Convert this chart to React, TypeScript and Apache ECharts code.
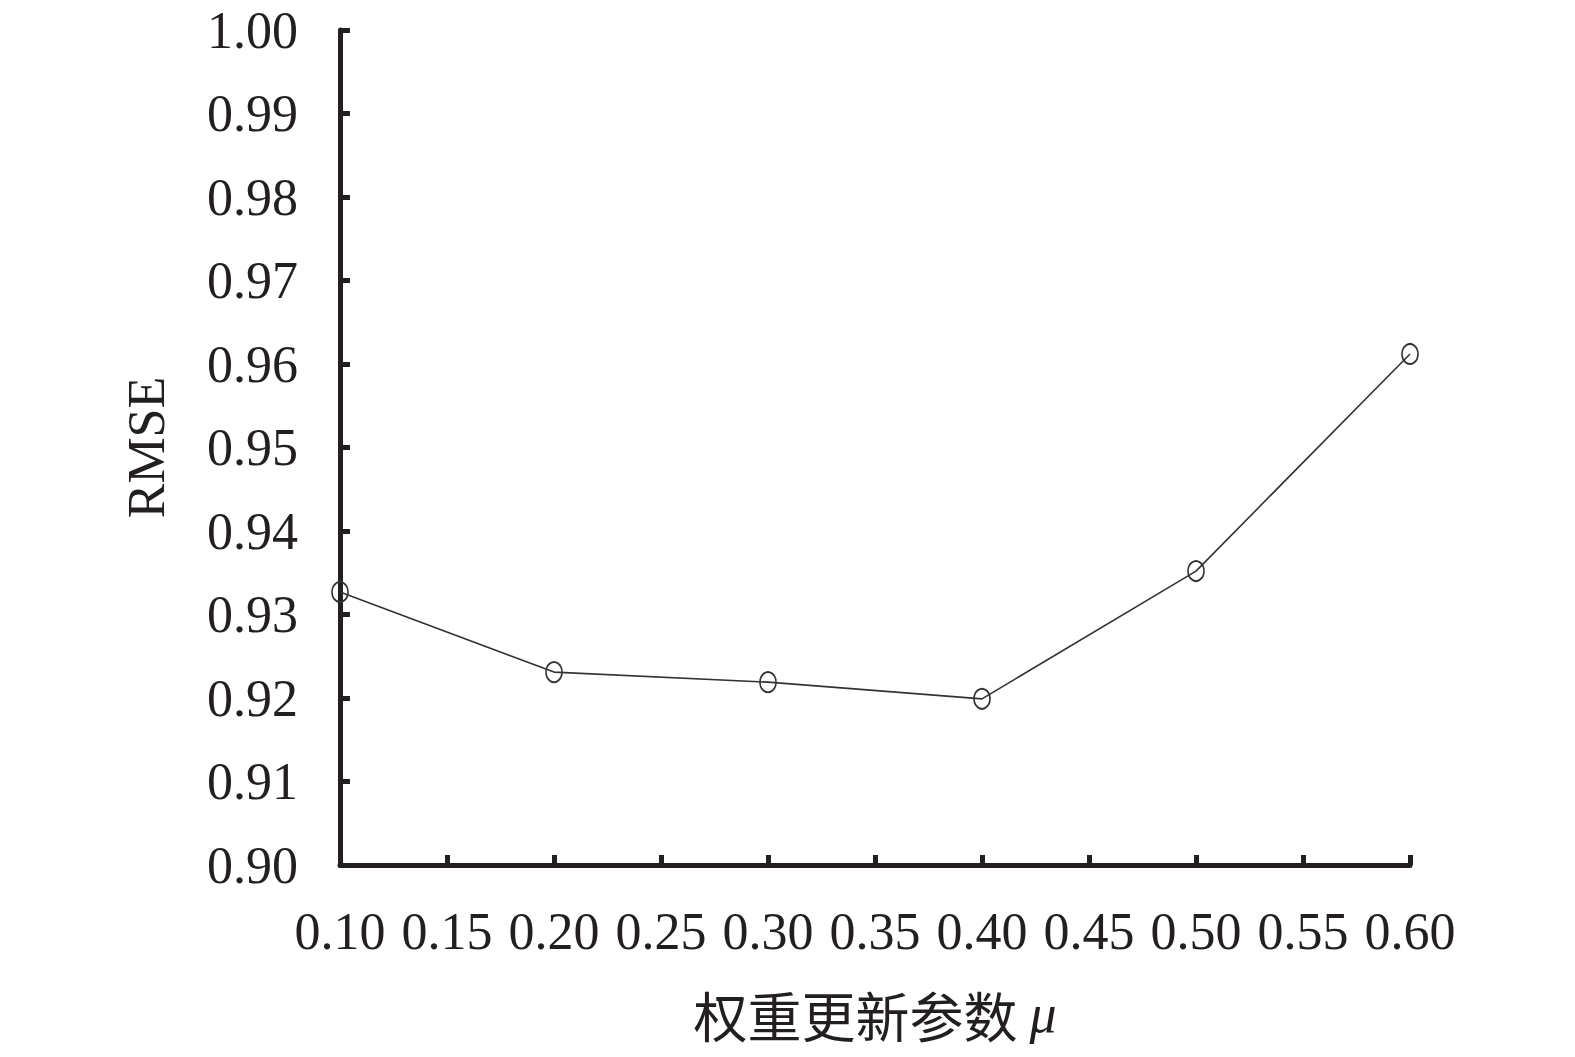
import React, { useEffect, useRef } from "react";
import * as echarts from "echarts";

const xValues = [0.1, 0.2, 0.3, 0.4, 0.5, 0.6];
const rmseValues = [0.9327, 0.9231, 0.9219, 0.9199, 0.9352, 0.9612];
const xAxisName = "权重更新参数 ";
const xAxisSymbol = "μ";
const yAxisName = "RMSE";

const serif = "'Liberation Serif', 'DejaVu Serif', serif";
const ink = "#231f20";

export default function App() {
  const ref = useRef<HTMLDivElement>(null);
  useEffect(() => {
    if (!ref.current) return;
    const chart = echarts.init(ref.current, undefined, { renderer: "svg" });
    chart.setOption({
      animation: false,
      backgroundColor: "#ffffff",
      grid: { left: 340, right: 165, top: 30, bottom: 192, containLabel: false },
      xAxis: {
        type: "value",
        min: 0.1,
        max: 0.6,
        interval: 0.05,
        name: "{cn|" + xAxisName + "}{mu|" + xAxisSymbol + "}",
        nameLocation: "middle",
        nameGap: 120,
        nameTextStyle: {
          rich: {
            cn: { fontFamily: "'Noto Sans CJK SC', sans-serif", fontSize: 54, lineHeight: 58, color: ink },
            mu: { fontFamily: serif, fontStyle: "italic", fontSize: 54, lineHeight: 58, color: ink },
          },
        },
        axisLine: { show: true, onZero: false, lineStyle: { color: ink, width: 5 } },
        axisTick: { show: true, inside: true, length: 10, lineStyle: { color: ink, width: 5 } },
        axisLabel: {
          margin: 40,
          fontFamily: serif,
          fontSize: 52,
          color: ink,
          formatter: (v: number) => v.toFixed(2),
        },
        splitLine: { show: false },
      },
      yAxis: {
        type: "value",
        min: 0.9,
        max: 1.0,
        interval: 0.01,
        name: yAxisName,
        nameLocation: "middle",
        nameGap: 168,
        nameRotate: 90,
        nameTextStyle: { fontFamily: serif, fontSize: 52, color: ink },
        axisLine: { show: true, onZero: false, lineStyle: { color: ink, width: 5 } },
        axisTick: { show: true, inside: true, length: 10, lineStyle: { color: ink, width: 5 } },
        axisLabel: {
          margin: 42,
          fontFamily: serif,
          fontSize: 52,
          color: ink,
          formatter: (v: number) => v.toFixed(2),
        },
        splitLine: { show: false },
      },
      series: [
        {
          type: "line",
          data: xValues.map((x, i) => [x, rmseValues[i]]),
          symbol: "circle",
          symbolSize: [16, 20],
          lineStyle: { color: "#333333", width: 1.6 },
          itemStyle: { color: "transparent", borderColor: "#333333", borderWidth: 1.8 },
          clip: false,
          z: 3,
        },
      ],
    });
    return () => chart.dispose();
  }, []);
  return (
    <div
      ref={ref}
      style={{ position: "absolute", left: 0, top: 0, width: 1575, height: 1057 }}
    />
  );
}
